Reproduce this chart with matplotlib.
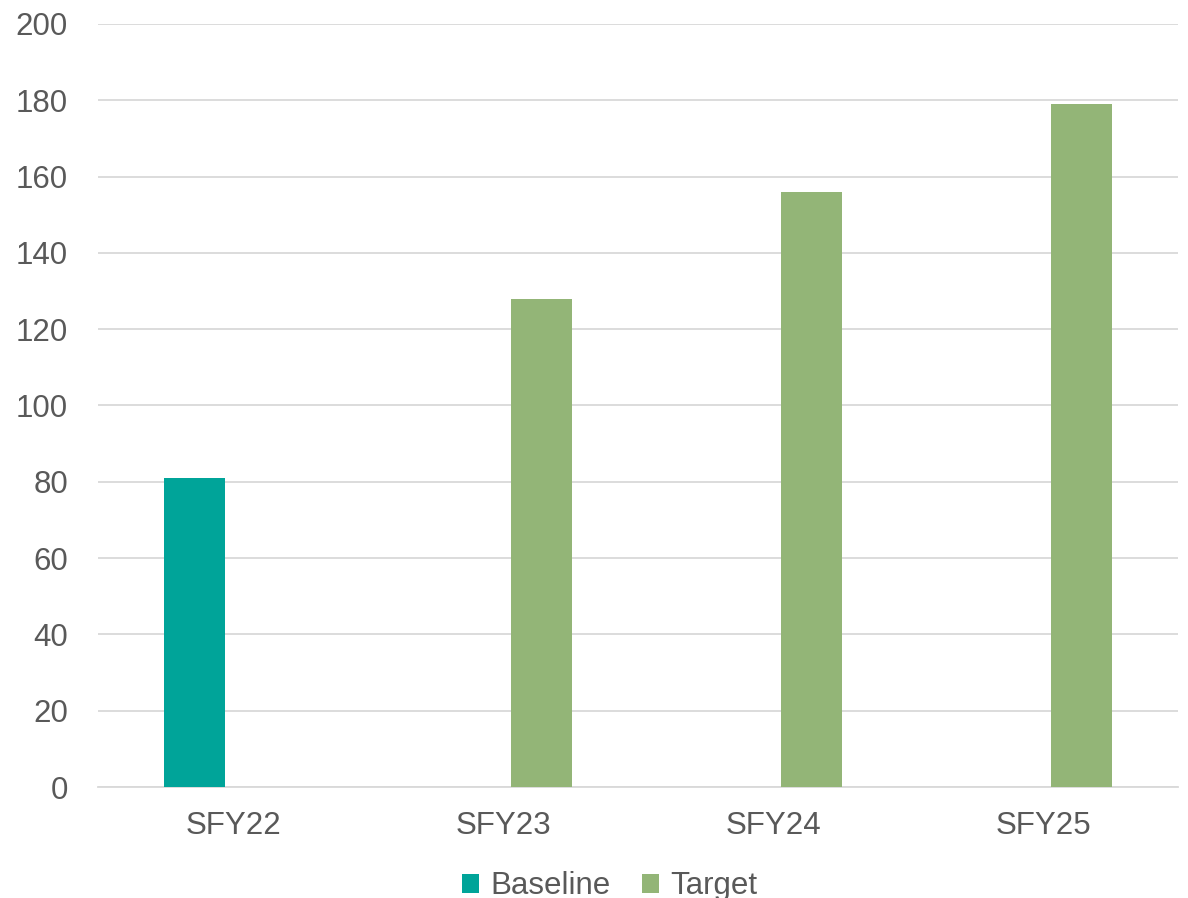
import numpy as np
from matplotlib import pyplot as plt

plt.rcParams['font.family'] = ['Liberation Sans', 'DejaVu Sans']

categories = ['SFY22', 'SFY23', 'SFY24', 'SFY25']
baseline = [81, 0, 0, 0]
target = [0, 128, 156, 179]

teal = '#00A499'
green = '#93B577'
text_col = '#595959'
grid_col = '#D9D9D9'

fig = plt.figure(figsize=(11.88, 8.98), dpi=100)
ax = fig.add_axes([0.0825, 0.1236, 0.9091, 0.8497])

x = np.arange(len(categories))
w = 0.226
off = 0.144
ax.bar(x - off, baseline, w, color=teal, label='Baseline', zorder=3)
ax.bar(x + off, target, w, color=green, label='Target', zorder=3)

ax.set_xlim(-0.5, 3.5)
ax.set_ylim(0, 200)
ax.set_yticks(range(0, 201, 20))
ax.set_xticks(x)
ax.set_xticklabels(categories)

ax.yaxis.grid(True, color=grid_col, linewidth=1.3, zorder=0)
for s in ['top', 'right', 'left']:
    ax.spines[s].set_visible(False)
ax.spines['bottom'].set_color(grid_col)
ax.spines['bottom'].set_linewidth(1.3)
ax.tick_params(axis='both', length=0, labelsize=22.5, colors=text_col)
ax.tick_params(axis='y', pad=21.6)
ax.tick_params(axis='x', pad=17)

fig.legend(loc='center', bbox_to_anchor=(0.513, 0.013), ncol=2, frameon=False,
           fontsize=22.5, handlelength=0.55, handleheight=0.55, handletextpad=0.35,
           columnspacing=1.0, labelcolor=text_col)

fig.savefig('out.png', dpi=100)
